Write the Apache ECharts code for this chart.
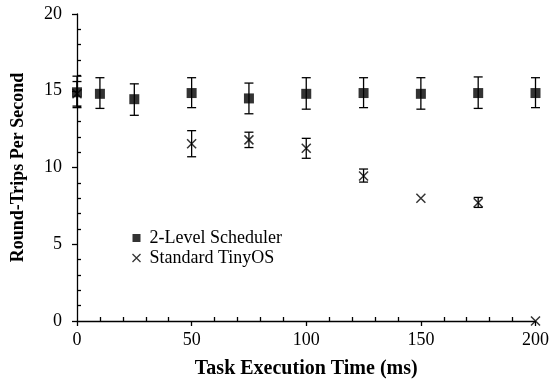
<!DOCTYPE html>
<html>
<head>
<meta charset="utf-8">
<script src="https://cdn.jsdelivr.net/npm/echarts@6/dist/echarts.min.js"></script>
<style>
  html, body { margin: 0; padding: 0; background: #fff; }
  #chart { width: 552px; height: 386px; }
</style>
</head>
<body>
<div id="chart"></div>
<script>
// task execution time (ms) for each measurement
const schedTimes = [0, 10, 25, 50, 75, 100, 125, 150, 175, 200]
const schedMean = [14.9, 14.8, 14.45, 14.85, 14.5, 14.8, 14.85, 14.8, 14.85, 14.85]
const schedLow = [13.9, 13.85, 13.4, 13.9, 13.5, 13.8, 13.9, 13.8, 13.85, 13.9]
const schedHigh = [15.95, 15.85, 15.45, 15.85, 15.5, 15.85, 15.85, 15.85, 15.9, 15.85]

const tinyTimes = [0, 50, 75, 100, 125, 150, 175, 200]
const tinyMean = [14.8, 11.55, 11.8, 11.25, 9.45, 8.0, 7.7, 0]
const tinyLow = [14.0, 10.7, 11.3, 10.6, 9.05, 8.0, 7.4, 0]
const tinyHigh = [15.6, 12.4, 12.3, 11.9, 9.9, 8.0, 8.05, 0]

const xTicks = [0, 50, 100, 150, 200]
const yTicks = [0, 5, 10, 15, 20]

const FONT = '"Liberation Serif", "DejaVu Serif", serif'
const CROSS = 'path://M0,0L10,10M10,0L0,10'

const chart = echarts.init(document.getElementById('chart'))

// error bar: vertical line plus two caps
function errorBar(params, api) {
  const x = api.value(0)
  const lo = api.value(1)
  const hi = api.value(2)
  if (lo === hi) return null
  const top = api.coord([x, hi])
  const bot = api.coord([x, lo])
  const w = 4.5
  const style = { stroke: '#000', lineWidth: 1.3 }
  return {
    type: 'group',
    children: [
      { type: 'line', shape: { x1: top[0], y1: top[1], x2: bot[0], y2: bot[1] }, style },
      { type: 'line', shape: { x1: top[0] - w, y1: top[1], x2: top[0] + w, y2: top[1] }, style },
      { type: 'line', shape: { x1: bot[0] - w, y1: bot[1], x2: bot[0] + w, y2: bot[1] }, style }
    ]
  }
}

const xBase = {
  type: 'value',
  min: xTicks[0],
  max: xTicks[xTicks.length - 1],
  interval: 50,
  position: 'bottom',
  splitLine: { show: false }
}
const yBase = {
  type: 'value',
  min: yTicks[0],
  max: yTicks[yTicks.length - 1],
  interval: 5,
  position: 'left',
  splitLine: { show: false }
}

chart.setOption({
  animation: false,
  textStyle: { fontFamily: FONT },
  grid: { left: 77, right: 15, top: 14, bottom: 65 },
  legend: {
    orient: 'vertical',
    left: 125,
    top: 224,
    itemWidth: 8,
    itemHeight: 8,
    itemGap: 2,
    textStyle: { fontFamily: FONT, fontSize: 18, color: '#000', padding: [0, 0, 0, 4] },
    data: [
      { name: '2-Level Scheduler', icon: 'rect' },
      { name: 'Standard TinyOS', icon: CROSS, itemStyle: { color: 'none', borderColor: '#000', borderWidth: 1.3 } }
    ]
  },
  xAxis: [
    Object.assign({}, xBase, {
      name: 'Task Execution Time (ms)',
      nameLocation: 'middle',
      nameGap: 38,
      nameTextStyle: { fontFamily: FONT, fontSize: 20, fontWeight: 'bold', color: '#000' },
      axisLine: { onZero: false, lineStyle: { color: '#000', width: 1.3 } },
      axisTick: { inside: false, length: 5, lineStyle: { color: '#000', width: 1.3 } },
      axisLabel: { color: '#000', fontSize: 18, margin: 10, showMaxLabel: true }
    }),
    Object.assign({}, xBase, {
      axisLine: { show: false },
      axisTick: { show: false, inside: true },
      axisLabel: { show: false },
      minorTick: { show: true, splitNumber: 5, length: 4, lineStyle: { color: '#000', width: 1.3 } }
    })
  ],
  yAxis: [
    Object.assign({}, yBase, {
      name: 'Round-Trips Per Second',
      nameLocation: 'middle',
      nameGap: 50,
      nameTextStyle: { fontFamily: FONT, fontSize: 18, fontWeight: 'bold', color: '#000' },
      axisLine: { show: true, onZero: false, lineStyle: { color: '#000', width: 1.3 } },
      axisTick: { show: true, inside: false, length: 5, lineStyle: { color: '#000', width: 1.3 } },
      axisLabel: { color: '#000', fontSize: 18, margin: 15 }
    }),
    Object.assign({}, yBase, {
      axisLine: { show: false },
      axisTick: { show: false, inside: true },
      axisLabel: { show: false },
      minorTick: { show: true, splitNumber: 5, length: 4, lineStyle: { color: '#000', width: 1.3 } }
    })
  ],
  series: [
    {
      name: '2-Level Scheduler',
      type: 'scatter',
      symbol: 'rect',
      symbolSize: 10,
      clip: false,
      z: 3,
      itemStyle: { color: '#000' },
      data: schedTimes.map((t, i) => [t, schedMean[i]])
    },
    {
      name: '2-Level Scheduler',
      type: 'custom',
      renderItem: errorBar,
      clip: false,
      z: 2,
      data: schedTimes.map((t, i) => [t, schedLow[i], schedHigh[i]])
    },
    {
      name: 'Standard TinyOS',
      type: 'scatter',
      symbol: CROSS,
      symbolSize: 9,
      clip: false,
      z: 3,
      itemStyle: { color: 'none', borderColor: '#000', borderWidth: 1.5 },
      data: tinyTimes.map((t, i) => [t, tinyMean[i]])
    },
    {
      name: 'Standard TinyOS',
      type: 'custom',
      renderItem: errorBar,
      clip: false,
      z: 2,
      data: tinyTimes.map((t, i) => [t, tinyLow[i], tinyHigh[i]])
    }
  ]
})
</script>
</body>
</html>
